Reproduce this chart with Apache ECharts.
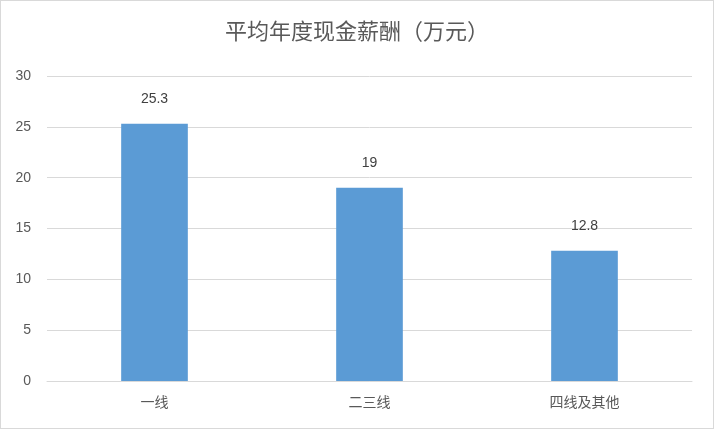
<!DOCTYPE html>
<html><head><meta charset="utf-8">
<script src="https://cdn.jsdelivr.net/npm/echarts@6/dist/echarts.min.js"></script>
<style>html,body{margin:0;padding:0;}#c{width:712px;height:427px;border:1px solid #d9d9d9;}</style>
</head><body><div id="c"></div>
<script>
const categories = ['一线', '二三线', '四线及其他'];
const values = [25.3, 19, 12.8];
const yTicks = {min: 0, max: 30, interval: 5};
const chart = echarts.init(document.getElementById('c'));
chart.setOption({
  title: {text: '平均年度现金薪酬（万元）', left: 'center', top: 14,
    textStyle: {fontFamily: 'Noto Sans CJK SC', fontSize: 22, fontWeight: 'normal', color: '#595959'}},
  grid: {left: 46, right: 21, top: 75, bottom: 47},
  xAxis: {type: 'category', data: categories,
    axisLine: {lineStyle: {color: '#d9d9d9'}}, axisTick: {show: false},
    axisLabel: {color: '#595959', fontSize: 14, fontFamily: 'Noto Sans CJK SC', margin: 14}},
  yAxis: {type: 'value', min: yTicks.min, max: yTicks.max, interval: yTicks.interval,
    axisLine: {show: false}, axisTick: {show: false},
    splitLine: {lineStyle: {color: '#d9d9d9'}},
    axisLabel: {color: '#595959', fontSize: 14, margin: 16}},
  series: [{type: 'bar', data: values, barWidth: '31%',
    itemStyle: {color: '#5b9bd5'},
    label: {show: true, position: 'top', distance: 18, color: '#404040', fontSize: 14}}]
});
</script></body></html>
